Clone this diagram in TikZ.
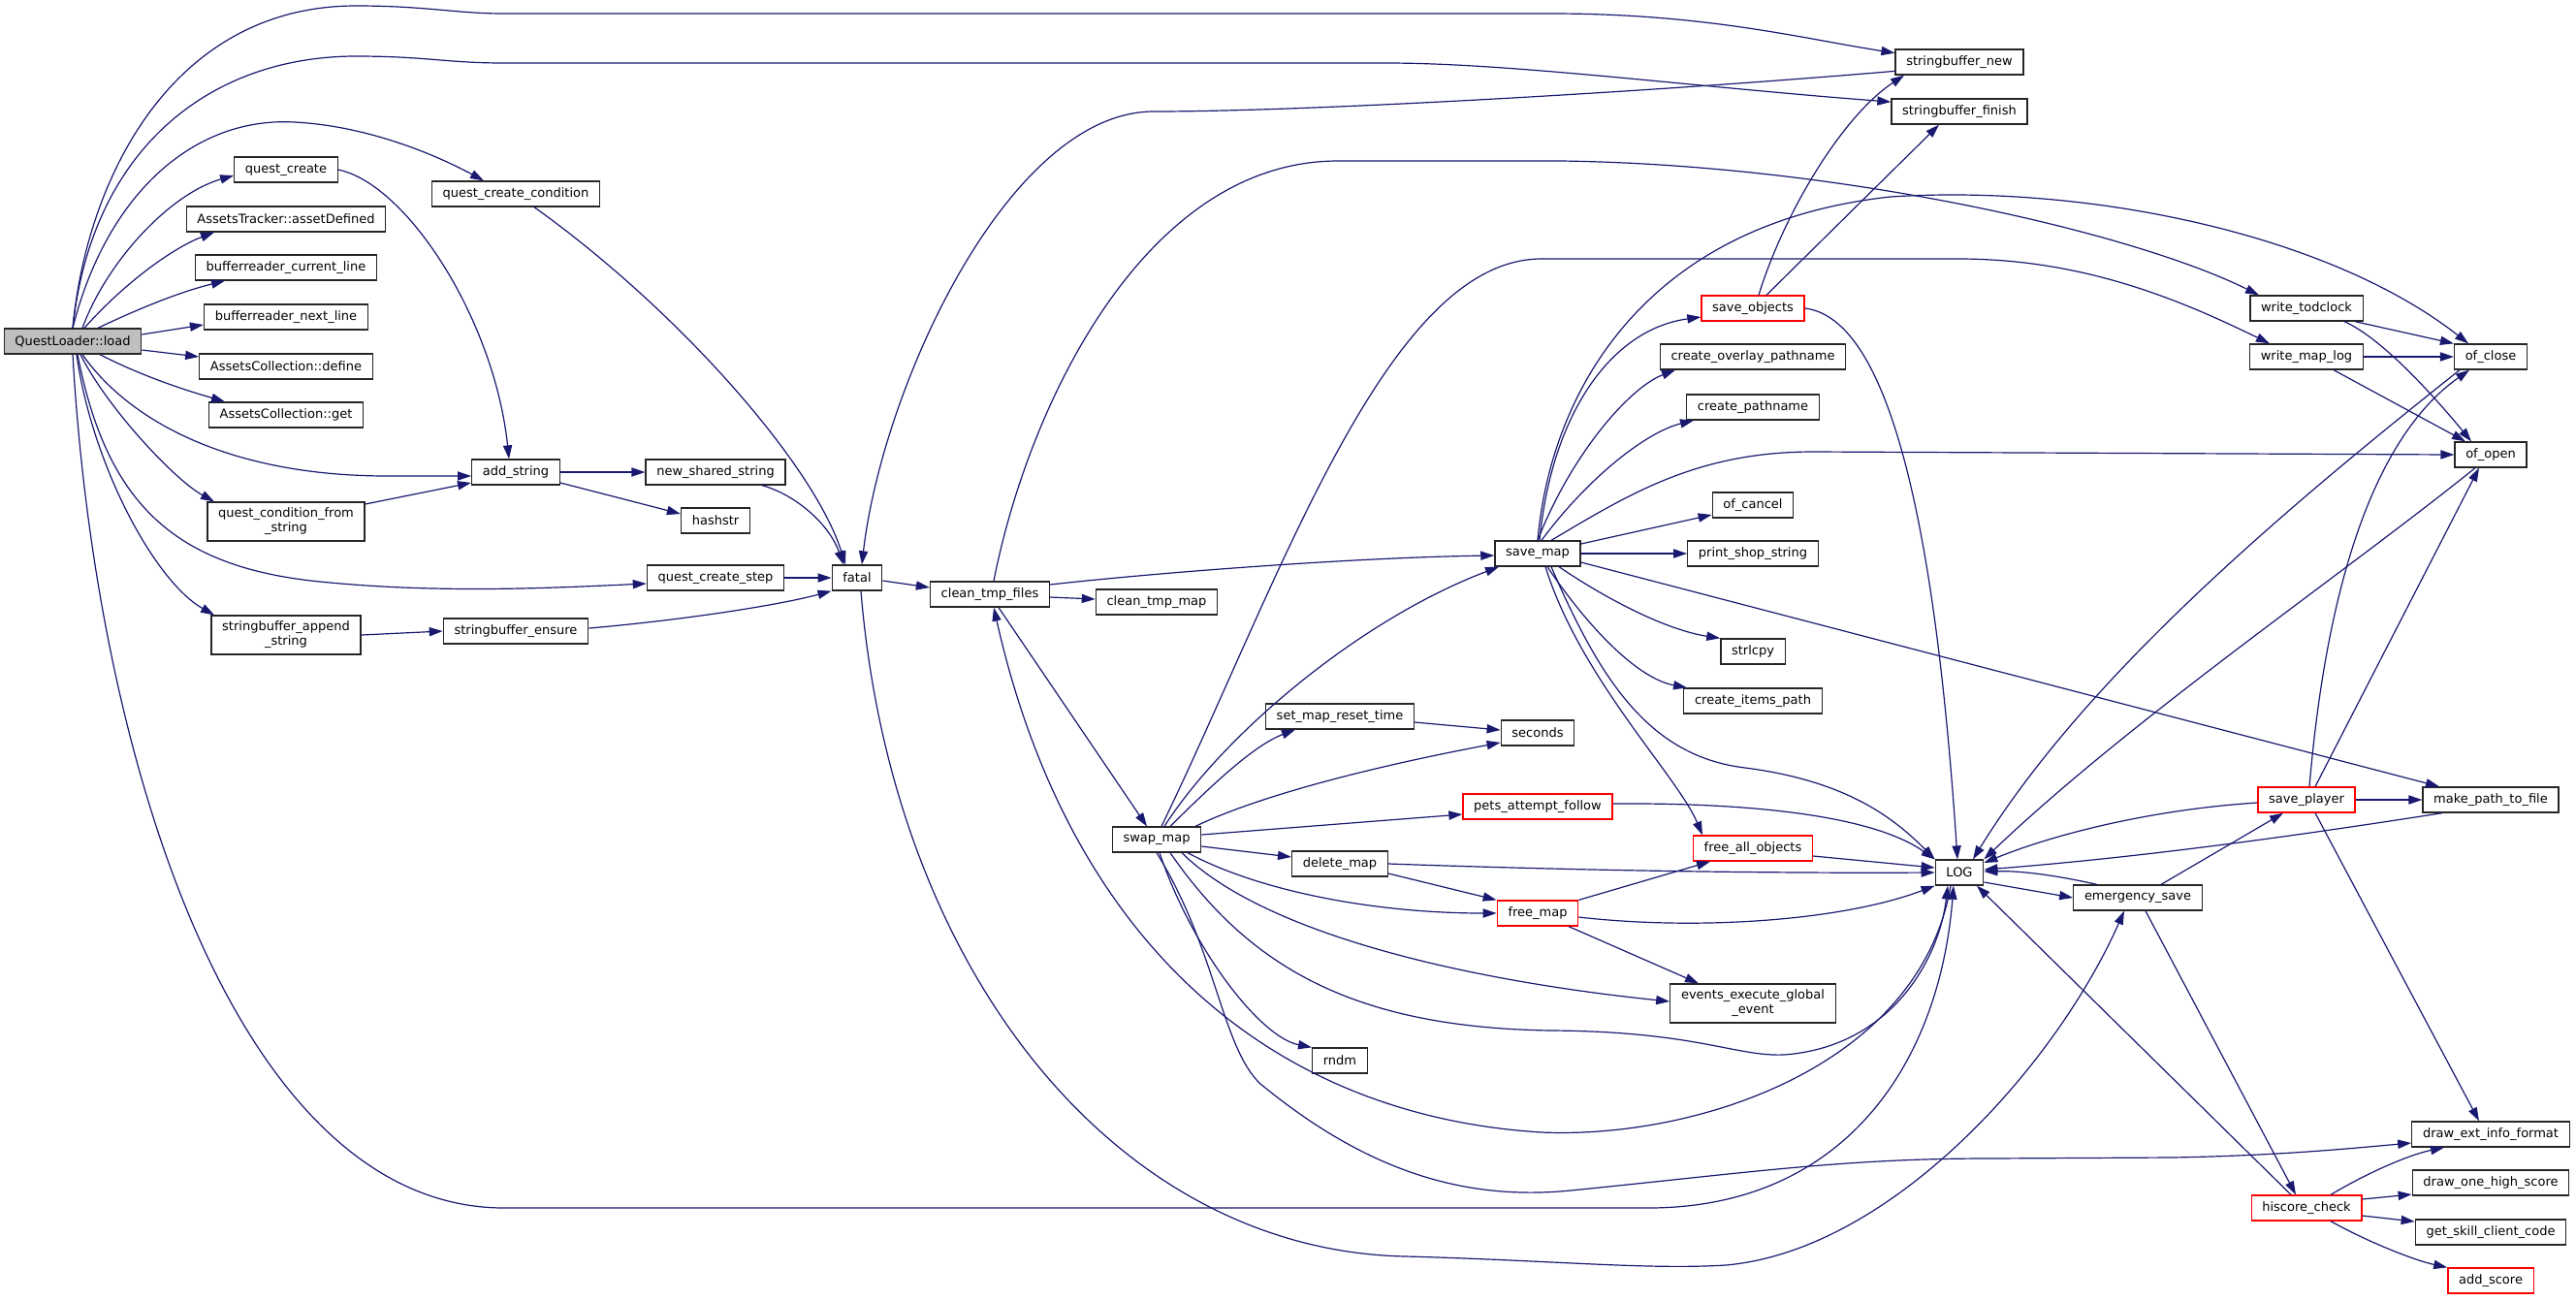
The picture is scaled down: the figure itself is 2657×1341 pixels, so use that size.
\documentclass[tikz,border=0pt]{standalone}
\usepackage{fontspec}
\setmainfont{DejaVu Sans}
\usetikzlibrary{arrows.meta}
\definecolor{midnight}{HTML}{191970}
\begin{document}
\begin{tikzpicture}[x=0.5pt,y=-0.5pt,
fn/.style={draw=black!85,fill=white,line width=0.65pt,inner xsep=5.6pt,inner ysep=0pt,minimum height=13pt,align=center,font=\fontsize{6.5pt}{7.5pt}\selectfont},
fnred/.style={fn,draw=red},
fnroot/.style={fn,fill=black!25},
call/.style={draw=midnight,line width=0.6pt,-{Triangle[length=7pt,width=4.6pt]}}]
\useasboundingbox (0,0) rectangle (2657,1341);
\node[fnroot] (load) at (75,352) {QuestLoader::load};
\node[fn] (qc) at (295,175) {quest\_create};
\node[fn] (assetdef) at (295,226) {AssetsTracker::assetDefined};
\node[fn] (cline) at (295,276) {bufferreader\_current\_line};
\node[fn] (nline) at (295,327) {bufferreader\_next\_line};
\node[fn] (define) at (295,378) {AssetsCollection::define};
\node[fn] (get) at (295,428) {AssetsCollection::get};
\node[fn,minimum height=20pt] (qcfs) at (295,538) {quest\_condition\_from\\\_string};
\node[fn,minimum height=20pt] (sbappend) at (295,655) {stringbuffer\_append\\\_string};
\node[fn] (qcc) at (532,200) {quest\_create\_condition};
\node[fn] (addstr) at (532,487) {add\_string};
\node[fn] (sbensure) at (532,651) {stringbuffer\_ensure};
\node[fn] (nss) at (738,487) {new\_shared\_string};
\node[fn] (hashstr) at (738,537) {hashstr};
\node[fn] (qcstep) at (738,596) {quest\_create\_step};
\node[fn] (fatal) at (884,596) {fatal};
\node[fn] (ctf) at (1021,613) {clean\_tmp\_files};
\node[fn] (ctm) at (1193,621) {clean\_tmp\_map};
\node[fn] (swap) at (1193,866) {swap\_map};
\node[fn] (smrt) at (1382,739) {set\_map\_reset\_time};
\node[fn] (dmap) at (1382,891) {delete\_map};
\node[fn] (rndm) at (1382,1094) {rndm};
\node[fn] (smap) at (1586,571) {save\_map};
\node[fn] (seconds) at (1586,756) {seconds};
\node[fnred] (paf) at (1586,832) {pets\_attempt\_follow};
\node[fnred] (fmap) at (1586,942) {free\_map};
\node[fnred] (sobj) at (1808,318) {save\_objects};
\node[fn] (cop) at (1808,368) {create\_overlay\_pathname};
\node[fn] (cp) at (1808,420) {create\_pathname};
\node[fn] (ofcancel) at (1808,521) {of\_cancel};
\node[fn] (pss) at (1808,571) {print\_shop\_string};
\node[fn] (strlcpy) at (1808,672) {strlcpy};
\node[fn] (cip) at (1808,723) {create\_items\_path};
\node[fnred] (fao) at (1808,875) {free\_all\_objects};
\node[fn,minimum height=20pt] (eeg) at (1808,1035) {events\_execute\_global\\\_event};
\node[fn] (sbnew) at (2021,64) {stringbuffer\_new};
\node[fn] (sbfinish) at (2021,115) {stringbuffer\_finish};
\node[fn] (log) at (2021,900) {LOG};
\node[fn] (emsave) at (2205,926) {emergency\_save};
\node[fn] (wtod) at (2379,318) {write\_todclock};
\node[fn] (wml) at (2379,368) {write\_map\_log};
\node[fnred] (splayer) at (2379,825) {save\_player};
\node[fnred] (hiscore) at (2379,1246) {hiscore\_check};
\node[fn] (ofclose) at (2569,368) {of\_close};
\node[fn] (ofopen) at (2569,469) {of\_open};
\node[fn] (mptf) at (2569,825) {make\_path\_to\_file};
\node[fn] (deif) at (2569,1170) {draw\_ext\_info\_format};
\node[fn] (dohs) at (2569,1220) {draw\_one\_high\_score};
\node[fn] (gscc) at (2569,1271) {get\_skill\_client\_code};
\node[fnred] (addscore) at (2569,1321) {add\_score};
\draw[call] (load.north) .. controls (90,180) and (180,6) .. (367,6) .. controls (440,6) and (470,14) .. (520,14) -- (1600,14) .. controls (1760,14) and (1860,40) .. (sbnew.172);
\draw[call] (load.north) .. controls (95,150) and (220,58) .. (367,58) .. controls (440,58) and (460,65) .. (520,65) -- (1430,65) .. controls (1560,65) and (1750,90) .. (sbfinish.172);
\draw[call] (sbnew.188) .. controls (1700,95) and (1350,115) .. (1190,115) .. controls (1040,115) and (910,400) .. (fatal.70);
\draw[call] (load.north) .. controls (110,200) and (200,120) .. (304,126) .. controls (380,130) and (450,160) .. ([xshift=-16.5pt]qcc.north);
\draw[call] ([xshift=5pt]load.north) .. controls (110,270) and (175,200) .. ([yshift=-3pt]qc.west);
\draw[call] ([xshift=6pt]load.north) .. controls (130,290) and (180,255) .. ([xshift=-37pt]assetdef.south);
\draw[call] ([xshift=13pt]load.north) .. controls (150,315) and (190,300) .. ([xshift=-31.5pt]cline.south);
\draw[call] ([yshift=3.5pt]load.east) -- ([yshift=-4pt]nline.west);
\draw[call] ([yshift=-4.5pt]load.east) -- ([yshift=5pt]define.west);
\draw[call] ([xshift=14pt]load.south) .. controls (150,390) and (200,405) .. ([xshift=-31.5pt]get.north);
\draw[call] ([xshift=5pt]load.south) .. controls (130,430) and (230,491) .. (400,491) -- ([yshift=-2pt]addstr.west);
\draw[call] ([xshift=4pt]load.south) .. controls (110,420) and (180,495) .. ([xshift=-37pt]qcfs.north);
\draw[call] ([xshift=2.5pt]load.south) .. controls (110,520) and (180,585) .. (330,600) .. controls (450,612) and (560,607) .. ([yshift=-3pt]qcstep.west);
\draw[call] ([xshift=2pt]load.south) .. controls (95,480) and (160,600) .. ([xshift=-37pt]sbappend.north);
\draw[call] (load.south) .. controls (100,800) and (250,1246) .. (520,1246) -- (1700,1246) .. controls (1900,1246) and (2000,1100) .. ([xshift=-3pt]log.south);
\draw[call] (qc.east) .. controls (420,190) and (510,330) .. ([xshift=-3.5pt]addstr.north);
\draw[call] ([xshift=9.5pt]qcc.south) .. controls (700,320) and (840,480) .. ([xshift=-6pt]fatal.north);
\draw[call] ([yshift=9pt]qcfs.east) -- ([yshift=-5.5pt]addstr.west);
\draw[call] (addstr) -- (nss);
\draw[call] ([yshift=-5.5pt]addstr.east) -- ([yshift=3.5pt]hashstr.west);
\draw[call] ([xshift=24pt]nss.south) .. controls (820,510) and (855,540) .. ([xshift=-7pt]fatal.north);
\draw[call] (qcstep) -- (fatal);
\draw[call] (sbappend.east) -- (sbensure.west);
\draw[call] ([yshift=1.5pt]sbensure.east) .. controls (700,640) and (800,625) .. (fatal.south west);
\draw[call] ([yshift=-1.5pt]fatal.east) -- ([yshift=3.5pt]ctf.west);
\draw[call] ([xshift=2pt]fatal.south) .. controls (920,1000) and (1150,1290) .. (1450,1296) .. controls (1600,1300) and (1700,1310) .. (1780,1305) .. controls (1950,1290) and (2120,1100) .. ([xshift=-7pt]emsave.south);
\draw[call] ([yshift=5pt]ctf.east) .. controls (1200,590) and (1400,575) .. ([yshift=-1pt]smap.west);
\draw[call] ([yshift=-1.5pt]ctf.east) -- ([yshift=1.5pt]ctm.west);
\draw[call] ([xshift=4.5pt]ctf.south) -- ([xshift=-5pt]swap.north);
\draw[call] ([xshift=2pt]ctf.north) .. controls (1060,420) and (1180,166) .. (1380,166) -- (1610,166) .. controls (1900,170) and (2200,240) .. ([xshift=-24.5pt]wtod.north);
\draw[call] ([xshift=-4.5pt]log.south) .. controls (1980,1100) and (1750,1175) .. (1590,1168) .. controls (1300,1150) and (1100,960) .. ([xshift=2pt]ctf.south);
\draw[call] ([xshift=4pt]swap.north) .. controls (1260,760) and (1400,640) .. ([xshift=-20pt]smap.south);
\draw[call] ([xshift=2.5pt]swap.north) .. controls (1320,600) and (1430,267) .. (1590,267) -- (2020,267) .. controls (2150,267) and (2250,310) .. ([xshift=-19pt]wml.north);
\draw[call] ([xshift=7pt]swap.north) .. controls (1240,820) and (1290,770) .. ([xshift=-23pt]smrt.south);
\draw[call] ([xshift=20pt]swap.north) .. controls (1300,820) and (1420,790) .. ([yshift=-5pt]seconds.west);
\draw[call] ([yshift=2.5pt]swap.east) -- ([yshift=-4pt]paf.west);
\draw[call] ([yshift=-3.5pt]swap.east) -- ([yshift=3.5pt]dmap.west);
\draw[call] ([xshift=16pt]swap.south) .. controls (1300,920) and (1420,942) .. (fmap.west);
\draw[call] ([xshift=13pt]swap.south) .. controls (1300,960) and (1500,1010) .. ([yshift=1pt]eeg.west);
\draw[call] ([xshift=7pt]swap.south) .. controls (1290,1000) and (1400,1060) .. (1600,1063) .. controls (1750,1064) and (1790,1090) .. (1840,1088) .. controls (1950,1080) and (2000,990) .. ([xshift=-6pt]log.south);
\draw[call] ([xshift=1.5pt]swap.south) .. controls (1230,980) and (1300,1070) .. (rndm.north west);
\draw[call] (swap.south) .. controls (1255,980) and (1260,1080) .. (1300,1118) .. controls (1400,1200) and (1500,1240) .. (1620,1228) .. controls (1800,1210) and (1900,1195) .. (2050,1195) -- (2240,1194) .. controls (2350,1192) and (2420,1185) .. ([yshift=-4.5pt]deif.west);
\draw[call] ([yshift=-3pt]smrt.east) -- ([yshift=1.5pt]seconds.west);
\draw[call] ([yshift=1.5pt]paf.east) .. controls (1800,828) and (1930,840) .. (log.north west);
\draw[call] (dmap.east) .. controls (1600,897) and (1800,901) .. (log.west);
\draw[call] ([yshift=-5pt]dmap.east) -- (fmap.north west);
\draw[call] (fmap.north east) -- ([xshift=-22pt]fao.south);
\draw[call] ([yshift=-2pt]fmap.east) .. controls (1750,960) and (1900,950) .. (log.south west);
\draw[call] ([xshift=16pt]fmap.south) -- ([xshift=-28pt]eeg.north);
\draw[call] ([yshift=-4pt]fao.east) -- ([yshift=2.5pt]log.west);
\draw[call] ([xshift=1pt]smap.north) .. controls (1600,430) and (1660,340) .. ([yshift=-4.5pt]sobj.west);
\draw[call] (smap.north) .. controls (1620,470) and (1680,400) .. ([xshift=-40pt]cop.south);
\draw[call] ([xshift=2pt]smap.north) .. controls (1640,490) and (1700,445) .. ([xshift=-30.5pt]cp.south);
\draw[call] ([xshift=7pt]smap.north) .. controls (1680,510) and (1750,466) .. (1870,466) -- (ofopen.west);
\draw[call] ([yshift=5pt]smap.east) -- ([yshift=-5pt]ofcancel.west);
\draw[call] (smap) -- (pss);
\draw[call] ([yshift=-4.5pt]smap.east) -- ([xshift=-26.5pt]mptf.north);
\draw[call] ([xshift=11pt]smap.south) .. controls (1660,620) and (1720,650) .. (strlcpy.north west);
\draw[call] ([xshift=5pt]smap.south) .. controls (1640,650) and (1690,700) .. ([xshift=-34pt]cip.north);
\draw[call] ([xshift=7pt]smap.south) .. controls (1650,700) and (1700,780) .. (1800,792) .. controls (1900,805) and (1950,840) .. (log.north west);
\draw[call] ([xshift=4pt]smap.south) .. controls (1630,700) and (1730,800) .. ([xshift=-26pt]fao.north);
\draw[call] ([xshift=3pt]sobj.north) .. controls (1840,220) and (1900,120) .. ([xshift=-28.5pt]sbnew.south);
\draw[call] ([xshift=7pt]sobj.north) -- ([xshift=-10.5pt]sbfinish.south);
\draw[call] (sobj.east) .. controls (1960,330) and (2000,600) .. ([xshift=-1pt]log.north);
\draw[call] (smap.north) .. controls (1600,400) and (1700,230) .. (1950,203) .. controls (2150,190) and (2400,240) .. ([xshift=-11.5pt]ofclose.north);
\draw[call] ([xshift=25pt]wtod.south) -- (ofclose.north west);
\draw[call] ([xshift=19.5pt]wtod.south) .. controls (2460,350) and (2520,420) .. ([xshift=-10pt]ofopen.north);
\draw[call] (wml) -- (ofclose);
\draw[call] ([xshift=14pt]wml.south) -- ([xshift=-13pt]ofopen.north);
\draw[call] ([xshift=1.5pt]splayer.north) .. controls (2400,600) and (2450,450) .. ([xshift=-11pt]ofclose.south);
\draw[call] ([xshift=4.5pt]splayer.north) -- ([xshift=-6pt]ofopen.south);
\draw[call] ([xshift=-16pt]ofclose.south) .. controls (2350,530) and (2150,700) .. ([xshift=7pt]log.north);
\draw[call] ([xshift=-8pt]ofopen.south) .. controls (2420,590) and (2200,740) .. (log.north east);
\draw[call] ([yshift=-1.5pt]splayer.west) .. controls (2220,835) and (2120,860) .. ([yshift=5pt]log.east);
\draw[call] ([xshift=-25pt]mptf.south) .. controls (2350,865) and (2200,885) .. ([yshift=1.5pt]log.east);
\draw[call] ([xshift=-21pt]emsave.north) .. controls (2130,905) and (2090,898) .. ([yshift=0.5pt]log.east);
\draw[call] ([yshift=-5pt]log.east) -- (emsave.west);
\draw[call] ([xshift=12pt]emsave.north) -- ([xshift=-12pt]splayer.south);
\draw[call] ([xshift=4pt]emsave.south) -- ([xshift=-5.5pt]hiscore.north);
\draw[call] ([xshift=-8pt]hiscore.north) -- ([xshift=9pt]log.south);
\draw[call] (splayer) -- (mptf);
\draw[call] ([xshift=4.5pt]splayer.south) -- ([xshift=-6pt]deif.north);
\draw[call] ([xshift=12.5pt]hiscore.north) .. controls (2450,1205) and (2490,1190) .. ([xshift=-24pt]deif.south);
\draw[call] ([yshift=4.5pt]hiscore.east) -- ([yshift=-6pt]dohs.west);
\draw[call] ([yshift=-4pt]hiscore.east) -- ([yshift=5.5pt]gscc.west);
\draw[call] ([xshift=12.5pt]hiscore.south) .. controls (2440,1280) and (2490,1300) .. (addscore.north west);
\end{tikzpicture}
\end{document}
